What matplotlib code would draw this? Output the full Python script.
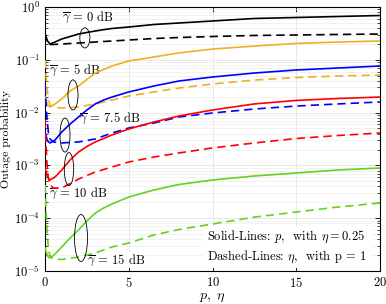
import numpy as np
import matplotlib
matplotlib.use("Agg")
import matplotlib.pyplot as plt
from matplotlib.patches import Ellipse, Rectangle

plt.rcParams['font.family'] = 'serif'
plt.rcParams['font.serif'] = ['cmr10', 'DejaVu Serif']
plt.rcParams['mathtext.fontset'] = 'cm'
plt.rcParams['axes.formatter.use_mathtext'] = True

# ---- data ----
x_solid = [0, 0.15, 0.3, 0.6, 1.0, 1.5, 2.0, 2.5, 3.0, 3.5, 4.0, 5.0, 6.5, 8.0, 10, 12.5, 15, 17.5, 20]
x_dash = [0, 0.05, 0.1, 0.2, 0.3, 0.5, 1, 2, 3, 4, 5, 6.5, 8, 10, 12.5, 15, 17.5, 20]

g0_solid = [0.308, 0.227, 0.199, 0.217, 0.248, 0.276, 0.308, 0.329, 0.351, 0.372, 0.392, 0.418, 0.466, 0.498, 0.543, 0.606, 0.633, 0.661, 0.690]
g0_dash = [0.322, 0.259, 0.217, 0.199, 0.195, 0.195, 0.199, 0.208, 0.217, 0.227, 0.237, 0.253, 0.264, 0.276, 0.289, 0.295, 0.302, 0.308]

g5_solid = [0.0197, 0.0139, 0.0128, 0.0146, 0.0181, 0.0257, 0.0319, 0.0424, 0.0562, 0.0655, 0.0763, 0.0949, 0.113, 0.135, 0.160, 0.182, 0.204, 0.217, 0.227]
g5_dash = [0.0991, 0.0587, 0.0333, 0.0173, 0.0139, 0.0128, 0.0122, 0.0128, 0.0146, 0.0173, 0.0206, 0.0246, 0.0292, 0.0348, 0.0414, 0.0462, 0.0493, 0.0515]

g75_solid = [0.00429, 0.00290, 0.00266, 0.00303, 0.00429, 0.00608, 0.00826, 0.0112, 0.0146, 0.0173, 0.0197, 0.0246, 0.0319, 0.0397, 0.0472, 0.0562, 0.0641, 0.0700, 0.0763]
g75_dash = [0.0333, 0.0173, 0.00901, 0.00429, 0.00316, 0.00278, 0.00266, 0.00278, 0.00316, 0.00411, 0.00511, 0.00635, 0.00826, 0.00983, 0.0117, 0.0133, 0.0146, 0.0159]

g10_solid = [0.000893, 0.000603, 0.000529, 0.000603, 0.000818, 0.00127, 0.00179, 0.00228, 0.00278, 0.00323, 0.00377, 0.00489, 0.00664, 0.00862, 0.0112, 0.0146, 0.0170, 0.0185, 0.0197]
g10_dash = [0.00724, 0.00303, 0.00127, 0.000577, 0.000425, 0.000373, 0.000373, 0.000552, 0.000750, 0.000933, 0.00116, 0.00144, 0.00172, 0.00214, 0.00266, 0.00323, 0.00368, 0.00411]

g15_solid = [2.73e-5, 1.92e-5, 1.76e-5, 2.10e-5, 2.85e-5, 4.22e-5, 5.98e-5, 8.85e-5, 1.25e-4, 1.56e-4, 1.86e-4, 2.52e-4, 3.42e-4, 4.35e-4, 5.29e-4, 6.30e-4, 7.18e-4, 8.18e-4, 8.93e-4]
g15_dash = [4.25e-4, 1.78e-4, 7.43e-5, 2.73e-5, 1.92e-5, 1.69e-5, 1.65e-5, 1.84e-5, 2.19e-5, 2.85e-5, 3.39e-5, 4.81e-5, 6.11e-5, 7.76e-5, 1.05e-4, 1.31e-4, 1.63e-4, 1.94e-4]

snr_labels = ['0', '5', '7.5', '10', '15']
colors = ['#000000', '#EDB120', '#0000FF', '#FF0000', '#66D11E']
solid_series = [g0_solid, g5_solid, g75_solid, g10_solid, g15_solid]
dash_series = [g0_dash, g5_dash, g75_dash, g10_dash, g15_dash]

# ---- figure ----
fig = plt.figure(figsize=(3.86, 3.04), dpi=100)
ax = fig.add_axes([45/386, 33/304, 335/386, 264/304])
ax.set_yscale('log')
ax.set_xlim(0, 20)
ax.set_ylim(1e-5, 1)

ax.grid(True, which='major', color='#e3e3e3', lw=0.6, zorder=0)
ax.grid(True, which='minor', axis='y', color='#ececec', lw=0.5, zorder=0)
ax.set_axisbelow(True)

for c, ys, yd in zip(colors, solid_series, dash_series):
    ax.plot(x_solid, ys, color=c, lw=1.2, zorder=3)
    ax.plot(x_dash, yd, color=c, lw=1.2, ls=(0, (5, 3)), zorder=3)

ax.set_xticks([0, 5, 10, 15, 20])
ax.set_yticks([1e-5, 1e-4, 1e-3, 1e-2, 1e-1, 1])
ax.tick_params(which='both', direction='in', top=True, right=True, labelsize=9)
ax.tick_params(which='major', length=3.5, width=0.6)
ax.tick_params(which='minor', length=2, width=0.5)
for s in ax.spines.values():
    s.set_linewidth(0.8)

ax.set_xlabel(r'$p,\ \eta$', fontsize=10, labelpad=1)
ax.set_ylabel('Outage probability', fontsize=8.5, labelpad=2)

# ellipses (axes-fraction positions)
ell = [((0.119, 0.883), 0.030, 0.076),
       ((0.0836, 0.667), 0.030, 0.114),
       ((0.0597, 0.515), 0.030, 0.129),
       ((0.0716, 0.386), 0.028, 0.125),
       ((0.1075, 0.125), 0.039, 0.178)]
for (cxy, w, h) in ell:
    ax.add_patch(Ellipse(cxy, w, h, transform=ax.transAxes, fill=False,
                         ec='black', lw=0.6, zorder=4))

lab_pos = [(0.127, 0.962), (0.09, 0.761), (0.194, 0.580), (0.098, 0.295), (0.212, 0.042)]
for lab, (tx, ty) in zip(snr_labels, lab_pos):
    ax.text(tx, ty, r'$\overline{\gamma}$ = ' + lab + ' dB', transform=ax.transAxes,
            ha='center', va='center', fontsize=9, zorder=2.5,
            bbox=dict(fc='white', ec='none', pad=0.3))

ax.add_patch(Rectangle((0.472, 0.011), 0.505, 0.159, transform=ax.transAxes,
                       fc='white', ec='none', zorder=2))
ax.text(0.4836, 0.129, r'Solid-Lines: $p$,  with $\eta = 0.25$', transform=ax.transAxes,
        ha='left', va='center', fontsize=9, zorder=5)
ax.text(0.4836, 0.053, r'Dashed-Lines: $\eta$,  with p = 1', transform=ax.transAxes,
        ha='left', va='center', fontsize=9, zorder=5)

fig.savefig('out.png', dpi=100)
